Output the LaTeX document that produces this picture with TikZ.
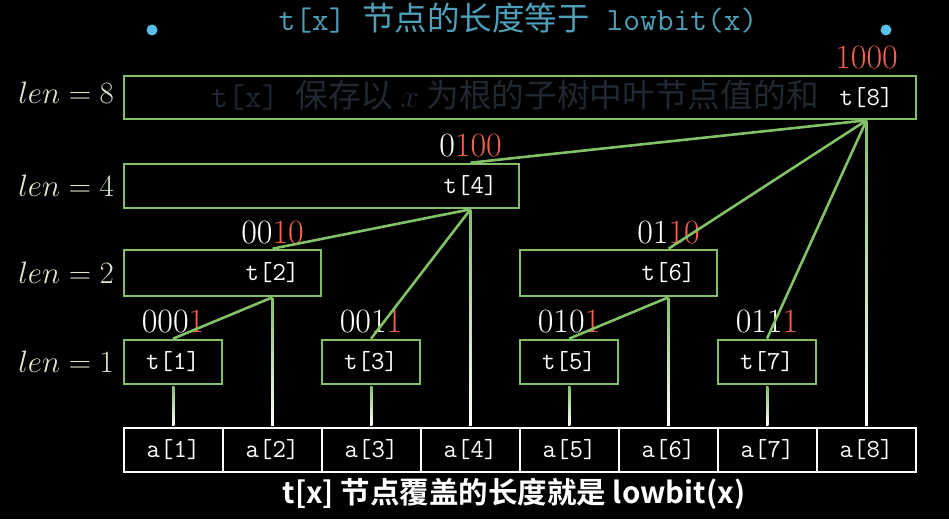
\documentclass[tikz,border=0pt]{standalone}
\usepackage{fix-cm}
\usepackage{fontspec}
\usetikzlibrary{calc}
\newfontfamily\cjk{Noto Sans CJK SC}[BoldFont={Noto Sans CJK SC Bold}]

\definecolor{boxgreen}{RGB}{131,193,103}
\definecolor{bitred}{RGB}{240,98,78}
\definecolor{titleblue}{RGB}{78,160,186}
\definecolor{dotblue}{RGB}{88,192,228}
\definecolor{lenwhite}{RGB}{220,232,206}
\definecolor{fadetext}{RGB}{32,40,50}

\tikzset{every picture/.style={line width=2.6pt},
  treebox/.style={draw=boxgreen, rectangle, inner sep=0pt, minimum height=44pt},
  cellbox/.style={draw=white, rectangle, inner sep=0pt, minimum width=99pt, minimum height=44pt, text=white, font=\ttfamily\fontsize{26}{30}\selectfont},
  tlabel/.style={text=white, inner sep=0.75pt, font=\ttfamily\fontsize{26}{30}\selectfont},
  bits/.style={text=white, inner sep=0.75pt, font=\fontsize{34}{40}\selectfont},
  lenlabel/.style={text=lenwhite, anchor=east, inner sep=0.75pt, font=\fontsize{31}{37}\selectfont},
  link/.style={draw=boxgreen},
  stem/.style={top color=boxgreen, bottom color=white}}

\begin{document}
\begin{tikzpicture}[x=1pt,y=1pt,yscale=-1,xscale=1]
%background, sets the frame to 949 x 519
\fill[black] (0,0) rectangle (949,519);
\path[use as bounding box] (0,0) rectangle (949,519);

% Title and dots
\node[text=titleblue, inner sep=0.75pt, font=\fontsize{32.5}{38}\selectfont] (title) at (518,18) {\ttfamily t[x] \cjk 节点的长度等于\ttfamily\ lowbit(x)};
\node[circle, fill=dotblue, inner sep=0pt, minimum size=11pt] (dotl) at (152,30) {};
\node[circle, fill=dotblue, inner sep=0pt, minimum size=11pt] (dotr) at (886,30) {};

% Level labels
\node[lenlabel] (len8) at (116,93) {$len = 8$};
\node[lenlabel] (len4) at (116,186) {$len = 4$};
\node[lenlabel] (len2) at (116,273) {$len = 2$};
\node[lenlabel] (len1) at (116,362) {$len = 1$};

% faded caption inside t[8]
\node[text=fadetext, inner sep=0.75pt, font=\fontsize{32.7}{38}\selectfont] (note) at (515,95) {\ttfamily t[x] \cjk 保存以 $x$ 为根的子树中叶节点值的和};

%Shape: tree boxes
\node[treebox, minimum width=792pt, minimum height=43pt] (b8) at (520,97.5) {};
\node[treebox, minimum width=395pt] (b4) at (321.5,186) {};
\node[treebox, minimum width=197pt, minimum height=46pt] (b2) at (222.5,273) {};
\node[treebox, minimum width=197pt, minimum height=46pt] (b6) at (618.5,273) {};
\node[treebox, minimum width=98pt] (b1) at (173,362) {};
\node[treebox, minimum width=98pt] (b3) at (371,362) {};
\node[treebox, minimum width=98pt] (b5) at (569,362) {};
\node[treebox, minimum width=98pt] (b7) at (767,362) {};

% Text Node
\node[tlabel] (t8) at (866.5,97.5) {t[8]};
\node[tlabel] (t4) at (470.5,186) {t[4]};
\node[tlabel] (t2) at (272.5,273) {t[2]};
\node[tlabel] (t6) at (668.5,273) {t[6]};
\node[tlabel] (t1) at (173,362) {t[1]};
\node[tlabel] (t3) at (371,362) {t[3]};
\node[tlabel] (t5) at (569,362) {t[5]};
\node[tlabel] (t7) at (767,362) {t[7]};

% Text Node
\node[bits] (n8) at (866.5,58) {\textcolor{bitred}{1000}};
\node[bits] (n4) at (470.5,146) {0\textcolor{bitred}{100}};
\node[bits] (n2) at (272.5,233) {00\textcolor{bitred}{10}};
\node[bits] (n6) at (668.5,233) {01\textcolor{bitred}{10}};
\node[bits] (n1) at (173,322) {000\textcolor{bitred}{1}};
\node[bits] (n3) at (371,322) {001\textcolor{bitred}{1}};
\node[bits] (n5) at (569,322) {010\textcolor{bitred}{1}};
\node[bits] (n7) at (767,322) {011\textcolor{bitred}{1}};

% array cells
\node[cellbox] (a1) at (173.5,450) {a[1]};
\node[cellbox] (a2) at (272.5,450) {a[2]};
\node[cellbox] (a3) at (371.5,450) {a[3]};
\node[cellbox] (a4) at (470.5,450) {a[4]};
\node[cellbox] (a5) at (569.5,450) {a[5]};
\node[cellbox] (a6) at (668.5,450) {a[6]};
\node[cellbox] (a7) at (767.5,450) {a[7]};
\node[cellbox] (a8) at (866.5,450) {a[8]};

% stems from cells up to their boxes
\shade[stem] ($(a1.north)+(-1.3,-1.3)$) rectangle ($(t1 |- b1.south)+(1.3,1.3)$);
\shade[stem] ($(a2.north)+(-1.3,-1.3)$) rectangle ($(t2 |- b2.south)+(1.3,1.3)$);
\shade[stem] ($(a3.north)+(-1.3,-1.3)$) rectangle ($(t3 |- b3.south)+(1.3,1.3)$);
\shade[stem] ($(a4.north)+(-1.3,-1.3)$) rectangle ($(t4 |- b4.south)+(1.3,1.3)$);
\shade[stem] ($(a5.north)+(-1.3,-1.3)$) rectangle ($(t5 |- b5.south)+(1.3,1.3)$);
\shade[stem] ($(a6.north)+(-1.3,-1.3)$) rectangle ($(t6 |- b6.south)+(1.3,1.3)$);
\shade[stem] ($(a7.north)+(-1.3,-1.3)$) rectangle ($(t7 |- b7.south)+(1.3,1.3)$);
\shade[stem] ($(a8.north)+(-1.3,-1.3)$) rectangle ($(t8 |- b8.south)+(1.3,1.3)$);

% links child -> parent
\draw[link] (t1 |- b1.north) -- (t2 |- b2.south);
\draw[link] (t3 |- b3.north) -- (t4 |- b4.south);
\draw[link] (t5 |- b5.north) -- (t6 |- b6.south);
\draw[link] (t7 |- b7.north) -- (t8 |- b8.south);
\draw[link] (t2 |- b2.north) -- (t4 |- b4.south);
\draw[link] (t6 |- b6.north) -- (t8 |- b8.south);
\draw[link] (t4 |- b4.north) -- (t8 |- b8.south);

% subtitle
\node[text=white, inner sep=0.75pt, font=\cjk\bfseries\fontsize{29.5}{35}\selectfont] (sub) at (514,494) {t[x] 节点覆盖的长度就是 lowbit(x)};

\end{tikzpicture}
\end{document}
